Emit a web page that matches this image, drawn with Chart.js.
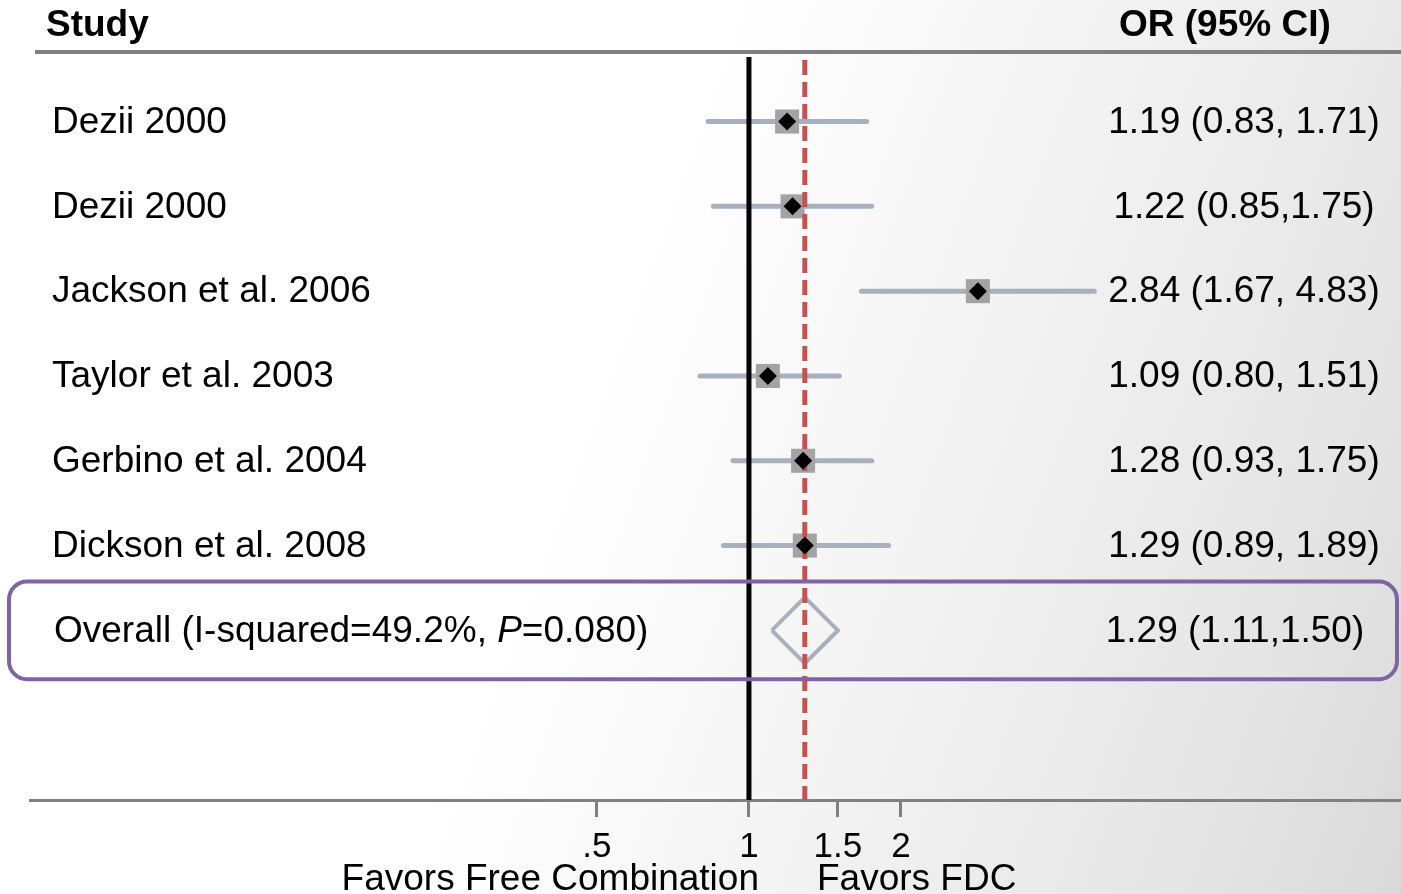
<!DOCTYPE html>
<html>
<head>
<meta charset="utf-8">
<script src="https://cdn.jsdelivr.net/npm/chart.js@4.4.1/dist/chart.umd.min.js"></script>
<style>
  html, body { margin: 0; padding: 0; }
  body {
    width: 1401px; height: 894px; overflow: hidden;
    background: linear-gradient(110deg, #ffffff 0%, #ffffff 42%, #f1f1f1 68%, #e4e4e4 88%, #d9d9d9 100%);
  }
  canvas { display: block; }
</style>
</head>
<body>
<canvas id="forest" width="1401" height="894"></canvas>
<script>
const studies = ['Dezii 2000', 'Dezii 2000', 'Jackson et al. 2006', 'Taylor et al. 2003', 'Gerbino et al. 2004', 'Dickson et al. 2008'];
const oddsRatios = [1.19, 1.22, 2.84, 1.09, 1.28, 1.29];
const ciLow = [0.83, 0.85, 1.67, 0.80, 0.93, 0.89];
const ciHigh = [1.71, 1.75, 4.83, 1.51, 1.75, 1.89];
const ciLabels = ['1.19 (0.83, 1.71)', '1.22 (0.85,1.75)', '2.84 (1.67, 4.83)', '1.09 (0.80, 1.51)', '1.28 (0.93, 1.75)', '1.29 (0.89, 1.89)'];
const overallOr = 1.29;
const overallLow = 1.11;
const overallHigh = 1.50;
const overallLabel = '1.29 (1.11,1.50)';
const xTicks = [0.5, 1, 1.5, 2];
const xTickLabels = ['.5', '1', '1.5', '2'];

const FONT = "'Liberation Sans', Arial, sans-serif";
const overallRow = studies.length;

// whisker per study
const whiskers = studies.map((s, i) => ({
  type: 'line',
  data: [{ x: ciLow[i], y: i }, { x: ciHigh[i], y: i }],
  borderColor: '#a8b0bf',
  borderWidth: 5,
  borderCapStyle: 'round',
  pointRadius: 0,
  order: 3
}));

const studyPoints = () => studies.map((s, i) => ({ x: oddsRatios[i], y: i }));

// overall diamond (half height in row units)
const dh = 0.39;
const diamond = [
  { x: overallLow, y: overallRow },
  { x: overallOr, y: overallRow - dh },
  { x: overallHigh, y: overallRow },
  { x: overallOr, y: overallRow + dh },
  { x: overallLow, y: overallRow }
];

function drawRefLines(chart) {
  const c = chart.ctx;
  const xs = chart.scales.x;
  const bottom = chart.chartArea.bottom;
  c.save();
  // null line
  const x1 = xs.getPixelForValue(1);
  c.strokeStyle = '#000';
  c.lineWidth = 5;
  c.beginPath();
  c.moveTo(x1, 57); c.lineTo(x1, bottom);
  c.stroke();
  // overall effect line
  const xo = xs.getPixelForValue(overallOr);
  c.strokeStyle = '#c8504f';
  c.lineWidth = 5;
  c.setLineDash([15, 7]);
  c.beginPath();
  c.moveTo(xo, 60); c.lineTo(xo, bottom);
  c.stroke();
  c.restore();
}

const decorations = {
  id: 'decorations',
  beforeDatasetsDraw(chart) {
    const c = chart.ctx;
    c.save();
    c.strokeStyle = '#808080';
    c.lineWidth = 4;
    c.beginPath();
    c.moveTo(35, 52); c.lineTo(1401, 52);
    c.stroke();
    c.restore();
  },
  afterDatasetDraw(chart, args) {
    // lines go over the squares but under the black diamonds
    if (chart.data.datasets[args.index].id === 'squares') drawRefLines(chart);
  },
  afterDraw(chart) {
    const c = chart.ctx;
    const ys = chart.scales.y;
    c.save();
    c.fillStyle = '#000';
    c.textBaseline = 'middle';

    c.font = 'bold 37px ' + FONT;
    c.textAlign = 'left';
    c.fillText('Study', 46, 26);
    c.fillText('OR (95% CI)', 1119, 26);

    c.font = '37px ' + FONT;
    studies.forEach((s, i) => {
      const y = ys.getPixelForValue(i) + 1;
      c.textAlign = 'left';
      c.fillText(s, 52, y);
      c.textAlign = 'center';
      c.fillText(ciLabels[i], 1244, y);
    });

    // overall row
    const yo = ys.getPixelForValue(overallRow) + 1;
    c.textAlign = 'left';
    let x = 54;
    const parts = [['Overall (I-squared=49.2%, ', false], ['P', true], ['=0.080)', false]];
    parts.forEach(([t, it]) => {
      c.font = (it ? 'italic ' : '') + '37px ' + FONT;
      c.fillText(t, x, yo);
      x += c.measureText(t).width;
    });
    c.font = '37px ' + FONT;
    c.textAlign = 'center';
    c.fillText(overallLabel, 1235, yo);

    // highlight box round the overall row
    const top = ys.getPixelForValue(overallRow - 0.575);
    const bot = ys.getPixelForValue(overallRow + 0.575);
    c.strokeStyle = '#8064a2';
    c.lineWidth = 4;
    c.beginPath();
    c.roundRect(9, top, 1388, bot - top, 18);
    c.stroke();

    // axis titles
    c.font = '37px ' + FONT;
    c.textBaseline = 'alphabetic';
    c.textAlign = 'right';
    c.fillText('Favors Free Combination', 759, 890);
    c.textAlign = 'left';
    c.fillText('Favors FDC', 817, 890);

    c.restore();
  }
};

new Chart(document.getElementById('forest'), {
  type: 'line',
  data: {
    datasets: [
      ...whiskers,
      {
        type: 'line',
        data: diamond,
        borderColor: '#a8b0bf',
        borderWidth: 4,
        borderJoinStyle: 'miter',
        pointRadius: 0,
        fill: false,
        order: 3
      },
      {
        id: 'squares',
        type: 'scatter',
        data: studyPoints(),
        pointStyle: 'rect',
        pointRadius: 17,
        backgroundColor: '#a3a3a3',
        borderWidth: 0,
        order: 2
      },
      {
        type: 'scatter',
        data: studyPoints(),
        pointStyle: 'rectRot',
        pointRadius: 9,
        backgroundColor: '#000',
        borderColor: '#000',
        borderWidth: 0,
        order: 1
      }
    ]
  },
  options: {
    responsive: false,
    animation: false,
    devicePixelRatio: 1,
    layout: { autoPadding: false, padding: { left: 30, right: 0, top: 52, bottom: 0 } },
    scales: {
      x: {
        type: 'logarithmic',
        position: 'bottom',
        min: 0.0377,
        max: 19.55,
        afterBuildTicks: axis => { axis.ticks = xTicks.map(v => ({ value: v })); },
        afterFit: axis => { axis.height = 94; },
        ticks: {
          autoSkip: false,
          maxRotation: 0,
          padding: 9,
          color: '#000',
          font: { family: FONT, size: 35 },
          callback: (v, i) => xTickLabels[i]
        },
        grid: {
          drawOnChartArea: false,
          drawTicks: true,
          tickLength: 17,
          color: '#808080',
          lineWidth: 3
        },
        border: { display: true, color: '#808080', width: 3 }
      },
      y: {
        type: 'linear',
        display: false,
        reverse: true,
        min: -0.82,
        max: 8.0
      }
    },
    plugins: {
      legend: { display: false },
      tooltip: { enabled: false }
    }
  },
  plugins: [decorations]
});
</script>
</body>
</html>
